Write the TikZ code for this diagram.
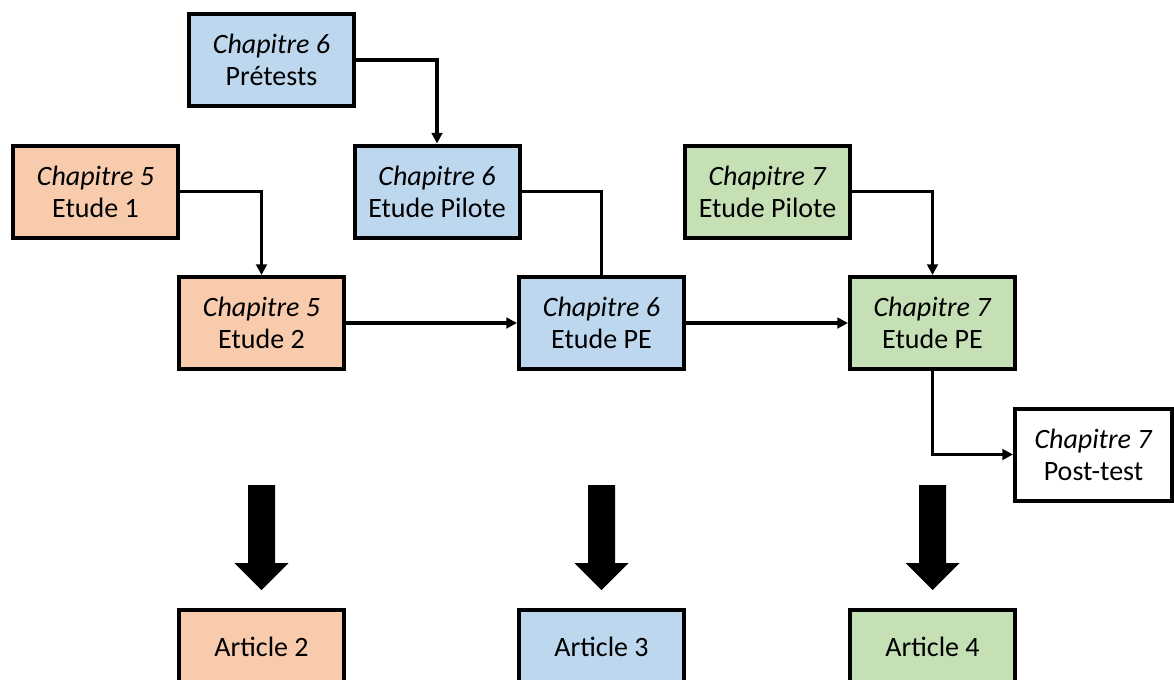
\documentclass[tikz,border=0pt]{standalone}
\usepackage{fontspec}
\setmainfont{Carlito}
\usetikzlibrary{arrows.meta,calc}
\definecolor{corange}{HTML}{F8CBAD}
\definecolor{cblue}{HTML}{BDD7EE}
\definecolor{cgreen}{HTML}{C5E0B4}
\begin{document}
\begin{tikzpicture}[x=0.75pt,y=-0.75pt,
  box/.style={draw=black,line width=3pt,rectangle,minimum width=123.75pt,minimum height=69pt,
    align=center,inner sep=0pt,font=\fontsize{21}{24}\selectfont},
  conn/.style={line width=2.5pt,-{Triangle[length=8pt,width=8pt]}},
  plain/.style={line width=2.5pt},
  bigarrow/.style={fill=black}]
\useasboundingbox (0,0) rectangle (1174,679);
\node[box,fill=cblue] (pre) at (271.5,60) {\textit{Chapitre 6}\\Prétests};
\node[box,fill=corange] (e1) at (95.5,191.5) {\textit{Chapitre 5}\\Etude 1};
\node[box,fill=cblue] (p6) at (437,191.5) {\textit{Chapitre 6}\\Etude Pilote};
\node[box,fill=cgreen] (p7) at (767.5,191.5) {\textit{Chapitre 7}\\Etude Pilote};
\node[box,fill=corange] (e2) at (261.5,323) {\textit{Chapitre 5}\\Etude 2};
\node[box,fill=cblue] (pe6) at (601.5,323) {\textit{Chapitre 6}\\Etude PE};
\node[box,fill=cgreen] (pe7) at (932.5,323) {\textit{Chapitre 7}\\Etude PE};
\node[box,fill=white,minimum width=117.75pt] (post) at (1093.5,454.5) {\textit{Chapitre 7}\\Post-test};
\node[box,fill=corange,minimum height=55.5pt] (a2) at (261.5,647) {Article 2};
\node[box,fill=cblue,minimum height=55.5pt] (a3) at (601.5,647) {Article 3};
\node[box,fill=cgreen,minimum height=55.5pt] (a4) at (932.5,647) {Article 4};
\draw[conn] (pre.east) -| (p6.north);
\draw[conn] (e1.east) -| (e2.north);
\draw[plain] (p6.east) -| (pe6.north);
\draw[conn] (p7.east) -| (pe7.north);
\draw[conn] (e2.east) -- (pe6.west);
\draw[conn] (pe6.east) -- (pe7.west);
\draw[conn] (pe7.south) |- (post.west);
\foreach \n in {a2,a3,a4}{
  \fill[bigarrow] ($(\n.north)+(-13.5,-123)$) -- ($(\n.north)+(13.5,-123)$) -- ($(\n.north)+(13.5,-45)$)
    -- ($(\n.north)+(27,-45)$) -- ($(\n.north)+(0,-18)$) -- ($(\n.north)+(-27,-45)$)
    -- ($(\n.north)+(-13.5,-45)$) -- cycle;
}
\end{tikzpicture}
\end{document}
